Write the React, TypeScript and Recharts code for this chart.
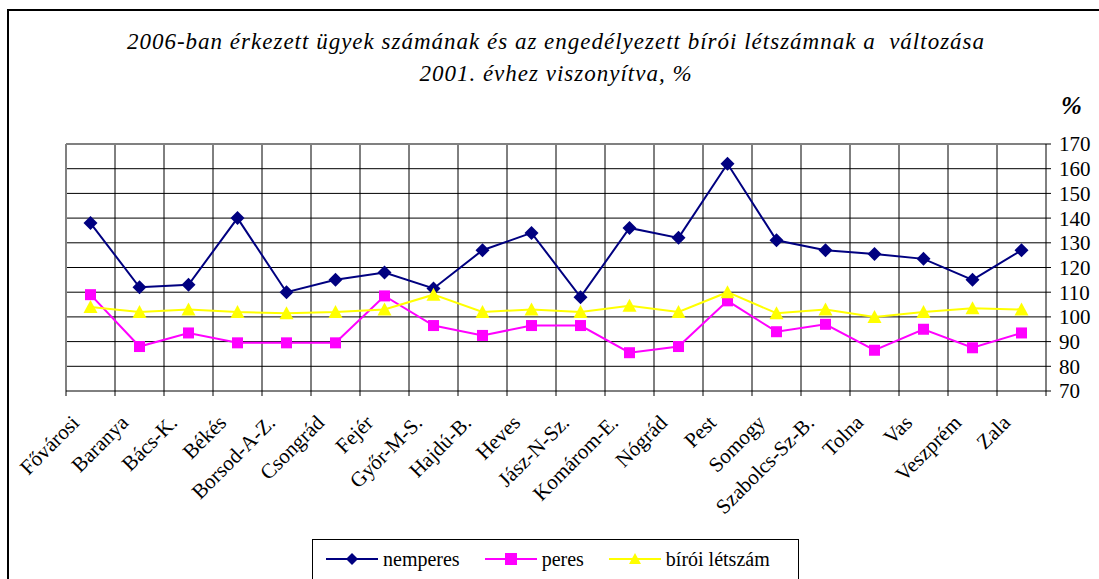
import { LineChart, Line, XAxis, YAxis, CartesianGrid, Legend } from 'recharts';

const categories = [
    'Fővárosi', 'Baranya', 'Bács-K.', 'Békés', 'Borsod-A-Z.', 'Csongrád', 'Fejér', 'Győr-M-S.',
    'Hajdú-B.', 'Heves', 'Jász-N-Sz.', 'Komárom-E.', 'Nógrád', 'Pest', 'Somogy', 'Szabolcs-Sz-B.',
    'Tolna', 'Vas', 'Veszprém', 'Zala',
];
const nemperes = [138, 112, 113, 140, 110, 115, 118, 111.5, 127, 134, 108, 136, 132, 162, 131, 127, 125.5, 123.5, 115, 127];
const peres = [109, 88, 93.5, 89.5, 89.5, 89.5, 108.5, 96.5, 92.5, 96.5, 96.5, 85.5, 88, 106.5, 94, 97, 86.5, 95, 87.5, 93.5];
const biroi = [104, 102, 103, 102, 101.5, 102, 103, 109, 102, 103, 102, 104.5, 102, 110, 101.5, 103, 100, 102, 103.5, 103];
const yTicks = [70, 80, 90, 100, 110, 120, 130, 140, 150, 160, 170];

const W = 1099;
const H = 579;
const PLOT_LEFT = 66;
const PLOT_TOP = 144;
const PLOT_W = 980;
const PLOT_H = 247;
const BAND = PLOT_W / categories.length;
const FONT = '"Liberation Serif", "Times New Roman", serif';

const data = categories.map((name, i) => ({
    name,
    nemperes: nemperes[i],
    peres: peres[i],
    biroi: biroi[i],
}));

// grid lines sit on category boundaries, like the old Excel chart
const innerV = Array.from({ length: categories.length - 1 }, (_, i) => PLOT_LEFT + (i + 1) * BAND);
const innerH = Array.from({ length: yTicks.length - 2 }, (_, i) => PLOT_TOP + (i + 1) * (PLOT_H / (yTicks.length - 1)));

const Diamond = ({ cx, cy, size = 7 }: any) => (
    <polygon points={`${cx},${cy - size} ${cx + size},${cy} ${cx},${cy + size} ${cx - size},${cy}`} fill="#000080" />
);
const Square = ({ cx, cy, size = 5.5 }: any) => (
    <rect x={cx - size} y={cy - size} width={size * 2} height={size * 2} fill="#FF00FF" />
);
const Triangle = ({ cx, cy, size = 7 }: any) => (
    <polygon points={`${cx},${cy - size} ${cx + size},${cy + size - 1} ${cx - size},${cy + size - 1}`} fill="#FFFF00" />
);

const XTick = ({ x, payload, index }: any) => {
    const ax = PLOT_TOP + PLOT_H;
    const lx = x - 10;
    const ly = ax + 33;
    return (
        <g>
            <line x1={x + BAND / 2} y1={ax} x2={x + BAND / 2} y2={ax + 5} stroke="#000" />
            {index === 0 && <line x1={x - BAND / 2} y1={ax} x2={x - BAND / 2} y2={ax + 5} stroke="#000" />}
            <text
                x={lx}
                y={ly}
                transform={`rotate(-45 ${lx} ${ly})`}
                textAnchor="end"
                fontFamily={FONT}
                fontSize={21}
                fill="#000"
            >
                {payload.value}
            </text>
        </g>
    );
};

const legendItems = [
    { label: 'nemperes', color: '#000080', Marker: Diamond },
    { label: 'peres', color: '#FF00FF', Marker: Square },
    { label: 'bírói létszám', color: '#FFFF00', Marker: Triangle },
];

const LegendBox = () => (
    <div style={{ display: 'flex', alignItems: 'center', height: 38, paddingLeft: 13, fontFamily: FONT, fontSize: 20, whiteSpace: 'nowrap' }}>
        {legendItems.map(({ label, color, Marker }) => (
            <div key={label} style={{ display: 'flex', alignItems: 'center', marginRight: 25, flexShrink: 0 }}>
                <svg width={52} height={20} style={{ marginRight: 5, flexShrink: 0 }}>
                    <line x1={0} y1={10} x2={52} y2={10} stroke={color} strokeWidth={2} />
                    <Marker cx={26} cy={10} size={6} />
                </svg>
                <span>{label}</span>
            </div>
        ))}
    </div>
);

export default function App() {
    return (
        <div style={{ position: 'fixed', left: 0, top: 0, width: W, height: H, background: '#fff', overflow: 'hidden' }}>
            <div style={{ position: 'absolute', left: 7, top: 9, width: 1200, height: 700, borderLeft: '2px solid #000', borderTop: '2px solid #000' }} />
            <div
                style={{
                    position: 'absolute',
                    left: 0,
                    top: 26,
                    width: 1112,
                    textAlign: 'center',
                    fontFamily: FONT,
                    fontStyle: 'italic',
                    fontSize: 23,
                    lineHeight: '32px',
                    letterSpacing: 1,
                }}
            >
                <div>2006-ban érkezett ügyek számának és az engedélyezett bírói létszámnak a&nbsp; változása</div>
                <div>2001. évhez viszonyítva, %</div>
            </div>
            <div style={{ position: 'absolute', left: 1061, top: 92, fontFamily: FONT, fontWeight: 'bold', fontStyle: 'italic', fontSize: 25 }}>%</div>
            <LineChart
                width={W}
                height={H}
                data={data}
                margin={{ top: PLOT_TOP, right: 0, bottom: 0, left: PLOT_LEFT }}
                style={{ position: 'absolute', left: 0, top: 0 }}
            >
                <CartesianGrid horizontalPoints={innerH} verticalPoints={innerV} stroke="#000" strokeWidth={1} />
                <CartesianGrid horizontalPoints={[PLOT_TOP]} verticalPoints={[PLOT_LEFT]} stroke="#808080" strokeWidth={2} />
                <XAxis
                    dataKey="name"
                    interval={0}
                    height={H - PLOT_TOP - PLOT_H}
                    padding={{ left: BAND / 2, right: BAND / 2 }}
                    tickLine={false}
                    axisLine={{ stroke: '#000' }}
                    tick={<XTick />}
                />
                <YAxis
                    orientation="right"
                    width={W - PLOT_LEFT - PLOT_W}
                    domain={[70, 170]}
                    ticks={yTicks}
                    interval={0}
                    tickSize={5}
                    tickMargin={8}
                    axisLine={{ stroke: '#000' }}
                    tickLine={{ stroke: '#000' }}
                    tick={{ fontFamily: FONT, fontSize: 21, fill: '#000', textAnchor: 'start' }}
                />
                <Legend
                    layout="vertical"
                    align="center"
                    verticalAlign="middle"
                    content={<LegendBox />}
                    wrapperStyle={{ left: 312, top: 539, width: 487, height: 50, border: '1px solid #000', background: '#fff', boxSizing: 'border-box' }}
                />
                <Line dataKey="nemperes" name="nemperes" stroke="#000080" strokeWidth={2} dot={<Diamond />} activeDot={false} isAnimationActive={false} />
                <Line dataKey="peres" name="peres" stroke="#FF00FF" strokeWidth={2} dot={<Square />} activeDot={false} isAnimationActive={false} />
                <Line dataKey="biroi" name="bírói létszám" stroke="#FFFF00" strokeWidth={2} dot={<Triangle />} activeDot={false} isAnimationActive={false} />
            </LineChart>
        </div>
    );
}
